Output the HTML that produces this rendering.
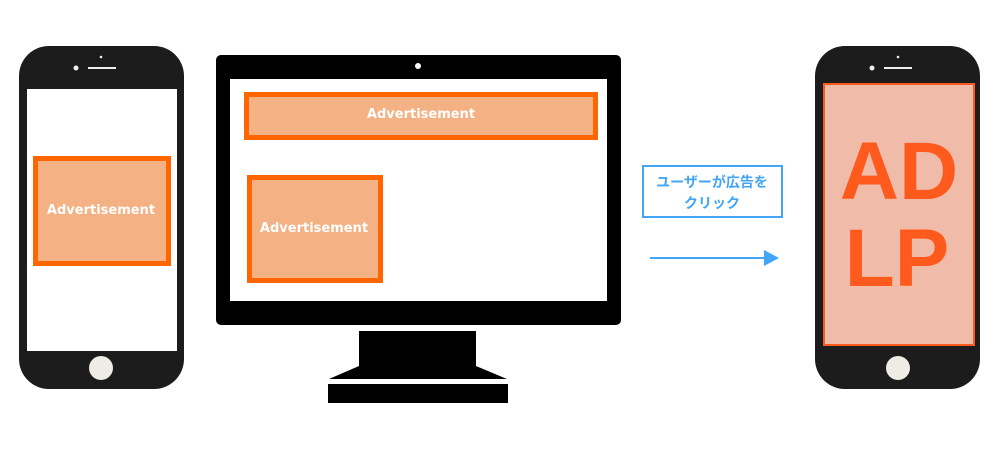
<!DOCTYPE html>
<html><head><meta charset="utf-8"><style>
html,body{margin:0;padding:0;background:#fff;width:1000px;height:450px;overflow:hidden}
svg{display:block}
.t{font-family:"DejaVu Sans","Liberation Sans",sans-serif;font-weight:bold;fill:#fff;font-size:13px;text-anchor:middle}
.j{font-family:"Liberation Sans","Noto Sans CJK JP",sans-serif;font-weight:bold;fill:#42a5f5;font-size:14px;text-anchor:middle}
.b{font-family:"Liberation Sans",sans-serif;font-weight:bold;fill:#ff5a1e;font-size:82px;text-anchor:middle}
</style></head><body>
<svg width="1000" height="450" viewBox="0 0 1000 450">
<!-- left phone -->
<rect x="19" y="46" width="165" height="343" rx="30" fill="#1c1c1c"/>
<rect x="27" y="89" width="150" height="262" fill="#fff"/>
<circle cx="76" cy="68" r="2.5" fill="#eee"/>
<rect x="88" y="67" width="28" height="2" fill="#eee"/>
<circle cx="101" cy="57" r="1.3" fill="#eee"/>
<circle cx="101" cy="368" r="12" fill="#efece6"/>
<rect x="35.5" y="158.5" width="133" height="105" fill="#f4b183" stroke="#ff6600" stroke-width="5"/>
<text class="t" x="101" y="214">Advertisement</text>
<!-- monitor -->
<rect x="216" y="55" width="405" height="270" rx="5" fill="#000"/>
<rect x="230" y="79" width="377" height="222" fill="#fff"/>
<circle cx="418" cy="66" r="3" fill="#fff"/>
<rect x="246.5" y="94.5" width="349" height="43" fill="#f4b183" stroke="#ff6600" stroke-width="5"/>
<text class="t" x="421" y="118">Advertisement</text>
<rect x="249.5" y="177.5" width="131" height="103" fill="#f4b183" stroke="#ff6600" stroke-width="5"/>
<text class="t" x="314" y="232">Advertisement</text>
<rect x="359" y="331" width="117" height="36" fill="#000"/>
<polygon points="359,366 476,366 507,379 329,379" fill="#000"/>
<rect x="328" y="384" width="180" height="19" fill="#000"/>
<!-- label -->
<rect x="643" y="166" width="139" height="51" fill="#fff" stroke="#42a5f5" stroke-width="2"/>
<text class="j" x="712" y="187">ユーザーが広告を</text>
<text class="j" x="712" y="208">クリック</text>
<line x1="650" y1="258" x2="766" y2="258" stroke="#42a5f5" stroke-width="2"/>
<polygon points="764,250 779,258 764,266" fill="#42a5f5"/>
<!-- right phone -->
<rect x="815" y="46" width="165" height="343" rx="30" fill="#1c1c1c"/>
<rect x="824" y="84" width="150" height="261" fill="#f0bba8" stroke="#ff5a1e" stroke-width="2"/>
<circle cx="872" cy="68" r="2.5" fill="#eee"/>
<rect x="884" y="67" width="28" height="2" fill="#eee"/>
<circle cx="898" cy="57" r="1.3" fill="#eee"/>
<circle cx="898" cy="368" r="12" fill="#efece6"/>
<text class="b" x="899" y="199">AD</text>
<text class="b" x="897" y="286">LP</text>
</svg>
</body></html>
